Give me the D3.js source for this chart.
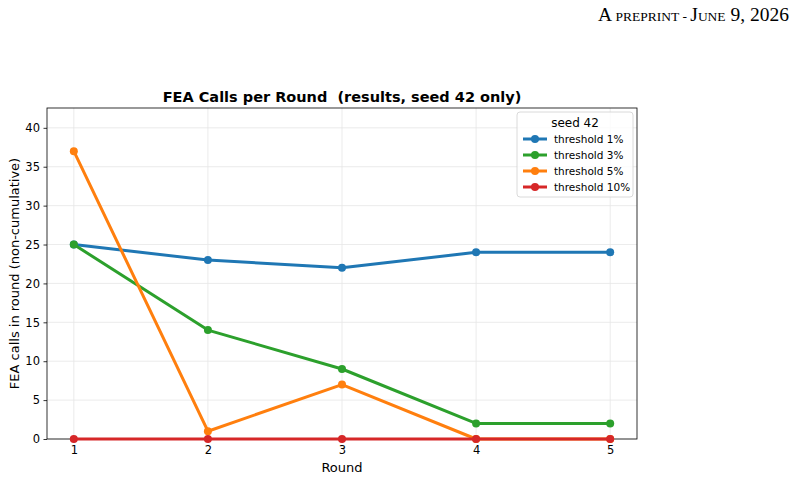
<!DOCTYPE html>
<html>
<head>
<meta charset="utf-8">
<script src="https://cdn.jsdelivr.net/npm/d3@7"></script>
<style>
  body { margin: 0; background: #fff; }
  svg { font-family: "DejaVu Sans", sans-serif; }
</style>
</head>
<body>
<div id="chart"></div>
<script>
// data
const rounds = [1, 2, 3, 4, 5];
const thr1 = [25, 23, 22, 24, 24];
const thr3 = [25, 14, 9, 2, 2];
const thr5 = [37, 1, 7, 0, 0];
const thr10 = [0, 0, 0, 0, 0];
const seriesNames = ['threshold 1%', 'threshold 3%', 'threshold 5%', 'threshold 10%'];
const seriesColors = ['#1f77b4', '#2ca02c', '#ff7f0e', '#d62728'];
const yTicks = [0, 5, 10, 15, 20, 25, 30, 35, 40];

const width = 795, height = 479;
const margin = { left: 47, right: 158, top: 108, bottom: 40 };

const svg = d3.select('#chart').append('svg')
    .attr('width', width)
    .attr('height', height);

// page header, small caps built by hand
const header = svg.append('text')
    .attr('x', 789).attr('y', 21)
    .attr('text-anchor', 'end')
    .style('font-family', '"Liberation Serif", "DejaVu Serif", serif')
    .attr('fill', '#000');
[['A', 19.5], [' PREPRINT - ', 13.5], ['J', 19.5], ['UNE', 13.5], [' 9, 2026', 19.5]].forEach(p => {
    header.append('tspan').style('font-size', p[1] + 'px').text(p[0]);
});

const x = d3.scaleLinear().domain([0.8, 5.2]).range([margin.left, width - margin.right]);
const y = d3.scaleLinear().domain([0, 42.55]).range([height - margin.bottom, margin.top]);

// grid
svg.append('g').selectAll('line').data(rounds).join('line')
    .attr('x1', d => x(d)).attr('x2', d => x(d))
    .attr('y1', y.range()[0]).attr('y2', y.range()[1])
    .attr('stroke', '#e6e6e6').attr('stroke-width', 0.8);
svg.append('g').selectAll('line').data(yTicks).join('line')
    .attr('x1', x.range()[0]).attr('x2', x.range()[1])
    .attr('y1', d => y(d)).attr('y2', d => y(d))
    .attr('stroke', '#e6e6e6').attr('stroke-width', 0.8);

// axes
const xAxis = svg.append('g')
    .attr('transform', `translate(0,${y(0)})`)
    .call(d3.axisBottom(x).tickValues(rounds).tickFormat(d3.format('d')).tickSize(3.5).tickPadding(3.5));
const yAxis = svg.append('g')
    .attr('transform', `translate(${x.range()[0]},0)`)
    .call(d3.axisLeft(y).tickValues(yTicks).tickSize(3.5).tickPadding(3.5));
[xAxis, yAxis].forEach(a => {
    a.select('.domain').remove();
    a.attr('font-size', null).attr('font-family', null);
    a.selectAll('text').style('font-size', '11.5px').attr('fill', '#000');
    a.selectAll('line').attr('stroke', '#000').attr('stroke-width', 0.8);
});

// frame
svg.append('rect')
    .attr('x', x.range()[0]).attr('y', y.range()[1])
    .attr('width', x.range()[1] - x.range()[0])
    .attr('height', y.range()[0] - y.range()[1])
    .attr('fill', 'none').attr('stroke', '#000').attr('stroke-width', 0.8);

// series
const allSeries = [thr1, thr3, thr5, thr10];
const line = d3.line().x((d, i) => x(rounds[i])).y(d => y(d));
allSeries.forEach((vals, k) => {
    const g = svg.append('g');
    g.append('path')
        .datum(vals)
        .attr('d', line)
        .attr('fill', 'none')
        .attr('stroke', seriesColors[k])
        .attr('stroke-width', 3)
        .attr('stroke-linejoin', 'round')
        .attr('stroke-linecap', 'butt');
    g.selectAll('circle').data(vals).join('circle')
        .attr('cx', (d, i) => x(rounds[i]))
        .attr('cy', d => y(d))
        .attr('r', 4)
        .attr('fill', seriesColors[k]);
});

// title and axis labels
svg.append('text')
    .attr('x', (x.range()[0] + x.range()[1]) / 2).attr('y', 102)
    .attr('text-anchor', 'middle')
    .style('font-size', '14.5px').style('font-weight', 'bold')
    .style('white-space', 'pre')
    .text('FEA Calls per Round  (results, seed 42 only)');
svg.append('text')
    .attr('x', (x.range()[0] + x.range()[1]) / 2).attr('y', 472)
    .attr('text-anchor', 'middle')
    .style('font-size', '13px')
    .text('Round');
svg.append('text')
    .attr('transform', `translate(18.5,${(y.range()[0] + y.range()[1]) / 2}) rotate(-90)`)
    .attr('text-anchor', 'middle')
    .style('font-size', '13px')
    .text('FEA calls in round (non-cumulative)');

// legend
const lg = svg.append('g').attr('transform', 'translate(517,112)');
lg.append('rect')
    .attr('width', 116).attr('height', 85).attr('rx', 3)
    .attr('fill', '#fff').attr('fill-opacity', 0.8)
    .attr('stroke', '#d0d0d0').attr('stroke-width', 0.8);
lg.append('text')
    .attr('x', 58).attr('y', 15)
    .attr('text-anchor', 'middle')
    .style('font-size', '12px')
    .text('seed 42');
seriesNames.forEach((name, k) => {
    const yy = 27 + k * 16;
    lg.append('line')
        .attr('x1', 6).attr('x2', 30).attr('y1', yy).attr('y2', yy)
        .attr('stroke', seriesColors[k]).attr('stroke-width', 3);
    lg.append('circle')
        .attr('cx', 18).attr('cy', yy).attr('r', 4)
        .attr('fill', seriesColors[k]);
    lg.append('text')
        .attr('x', 37).attr('y', yy + 4)
        .style('font-size', '10.5px')
        .text(name);
});
</script>
</body>
</html>
